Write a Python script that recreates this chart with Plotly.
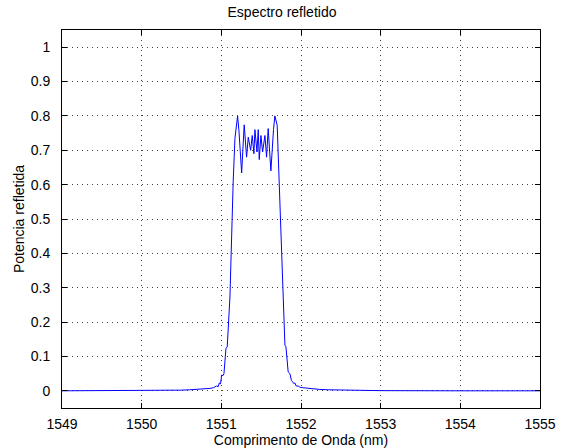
import plotly.graph_objects as go

# Wavelength samples (nm) and reflected power
wavelength_nm = [
    1549.0, 1549.5, 1550.0, 1550.3, 1550.5, 1550.6, 1550.7, 1550.731, 1550.8, 1550.857,
    1550.9, 1550.941, 1550.96, 1550.974, 1550.99, 1551.004, 1551.02, 1551.033, 1551.058,
    1551.074, 1551.108, 1551.137, 1551.149, 1551.171, 1551.204, 1551.22, 1551.255,
    1551.287, 1551.317, 1551.338, 1551.368, 1551.388, 1551.409, 1551.422, 1551.447,
    1551.463, 1551.476, 1551.497, 1551.518, 1551.547, 1551.568, 1551.588, 1551.622,
    1551.655, 1551.672, 1551.701, 1551.735, 1551.769, 1551.798, 1551.811, 1551.839,
    1551.861, 1551.88, 1551.895, 1551.91, 1551.923, 1551.94, 1551.965, 1551.99, 1552.028,
    1552.07, 1552.112, 1552.17, 1552.237, 1552.35, 1552.5, 1553.0, 1554.0, 1555.0,
]
reflected_power = [
    0.0, 0.0, 0.0005, 0.001, 0.002, 0.003, 0.004, 0.004, 0.006, 0.007,
    0.009, 0.014, 0.012, 0.023, 0.02, 0.046, 0.044, 0.05, 0.123,
    0.128, 0.273, 0.554, 0.61, 0.735, 0.80, 0.76, 0.634,
    0.774, 0.68, 0.738, 0.70, 0.743, 0.69, 0.76, 0.695,
    0.76, 0.673, 0.743, 0.695, 0.743, 0.68, 0.763, 0.64,
    0.76, 0.80, 0.773, 0.554, 0.302, 0.133, 0.128, 0.055,
    0.05, 0.03, 0.026, 0.021, 0.023, 0.014, 0.014, 0.01, 0.009,
    0.008, 0.007, 0.005, 0.004, 0.003, 0.002, 0.0005, 0.0, 0.0,
]

x_ticks = [1549, 1550, 1551, 1552, 1553, 1554, 1555]
y_ticks = [0, 0.1, 0.2, 0.3, 0.4, 0.5, 0.6, 0.7, 0.8, 0.9, 1]
y_tick_labels = ["0", "0.1", "0.2", "0.3", "0.4", "0.5", "0.6", "0.7", "0.8", "0.9", "1"]
x_range = [1549, 1555]
y_range = [-0.05, 1.05]

font_family = "Liberation Sans, Arial, Helvetica, sans-serif"
fsize = 14

fig = go.Figure()
fig.add_trace(go.Scatter(
    x=wavelength_nm, y=reflected_power, mode="lines",
    line=dict(color="#0000ff", width=1), showlegend=False,
))
# invisible copy on the overlay axes so that their tick marks get drawn
fig.add_trace(go.Scatter(
    x=wavelength_nm, y=reflected_power, mode="lines", xaxis="x2", yaxis="y2",
    line=dict(color="rgba(0,0,0,0)", width=1), showlegend=False, hoverinfo="skip",
))

# main axes: labels, grid and box line (outside ticks invisible, just to push labels out)
main_axis = dict(
    showline=True, linecolor="black", linewidth=1, mirror=True,
    ticks="outside", tickcolor="rgba(0,0,0,0)", tickwidth=1, automargin=False,
    showgrid=True, gridcolor="#444444", gridwidth=1, griddash="1px,4px",
    zeroline=False, tickfont=dict(family=font_family, size=fsize, color="black"),
)
# overlay axes: only the inward, mirrored tick marks
tick_axis = dict(
    showline=False, ticks="inside", ticklen=5, tickcolor="black", tickwidth=1,
    mirror="ticks", showgrid=False, zeroline=False, showticklabels=False, automargin=False,
)

fig.update_layout(
    width=564, height=448,
    margin=dict(l=62, r=24, t=30, b=40),
    paper_bgcolor="white", plot_bgcolor="white",
    font=dict(family=font_family, size=fsize, color="black"),
    title=dict(text="Espectro refletido", x=0.5, xanchor="center", y=0.972, yanchor="middle",
               font=dict(family=font_family, size=fsize, color="black")),
    xaxis=dict(range=x_range, tickvals=x_ticks, ticktext=[str(t) for t in x_ticks], ticklen=3,
               title=dict(text="Comprimento de Onda (nm)", standoff=0,
                          font=dict(family=font_family, size=fsize)),
               **main_axis),
    yaxis=dict(range=y_range, tickvals=y_ticks, ticktext=y_tick_labels, ticklen=8,
               title=dict(text="Potencia refletida", standoff=2,
                          font=dict(family=font_family, size=fsize)),
               **main_axis),
    xaxis2=dict(range=x_range, tickvals=x_ticks, overlaying="x", anchor="y2", **tick_axis),
    yaxis2=dict(range=y_range, tickvals=y_ticks, overlaying="y", anchor="x2", **tick_axis),
)

fig.write_html("out.html")
